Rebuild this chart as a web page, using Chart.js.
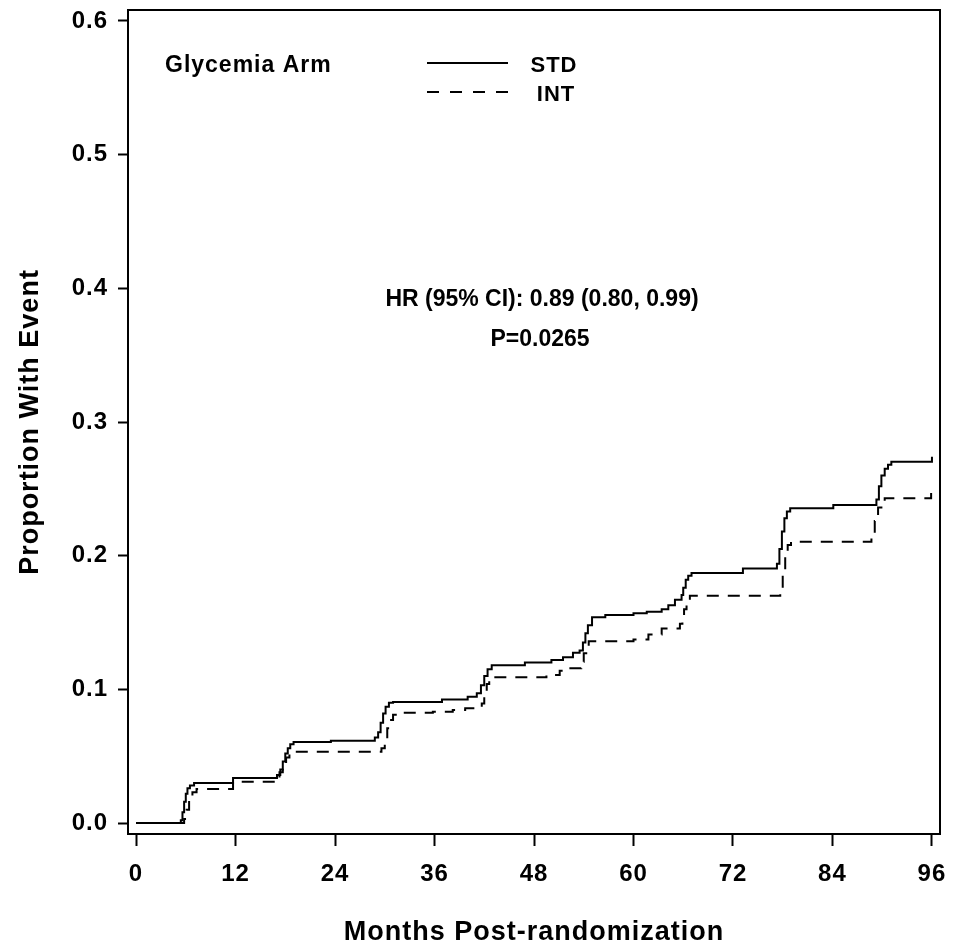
<!DOCTYPE html>
<html>
<head>
<meta charset="utf-8">
<script src="https://cdn.jsdelivr.net/npm/chart.js@4.4.0/dist/chart.umd.min.js"></script>
<style>
  html, body { margin: 0; padding: 0; background: #fff; }
  #wrap { width: 968px; height: 949px; }
</style>
</head>
<body>
<div id="wrap"><canvas id="kmChart" width="968" height="949"></canvas></div>
<script>
// Cumulative event curves (months, proportion)
const stdMonths = [0, 5.4, 5.6, 5.8, 6.0, 6.2, 6.5, 7.0, 11.7, 17.0, 17.4, 17.7, 18.0, 18.3, 18.6, 19.0,
  23.5, 28.8, 29.2, 29.5, 29.8, 30.1, 30.5, 31.0, 36.9, 40.0, 41.1, 41.6, 42.0, 42.4, 42.9,
  46.9, 50.1, 51.5, 52.7, 53.5, 53.9, 54.2, 54.5, 55.0, 56.6, 60.0, 61.6, 63.4, 64.2, 65.0,
  65.8, 66.0, 66.3, 66.6, 67.0, 73.2, 77.3, 77.6, 77.9, 78.2, 78.5, 78.9, 84.1, 89.3, 89.6,
  89.9, 90.3, 90.7, 91.1, 96.0];
const stdProportion = [0, 0.002, 0.008, 0.016, 0.022, 0.026, 0.028, 0.030, 0.0336, 0.036, 0.040, 0.046, 0.052, 0.056, 0.059, 0.0606,
  0.0615, 0.064, 0.068, 0.075, 0.082, 0.087, 0.090, 0.0906, 0.0924, 0.0945, 0.097, 0.103, 0.110, 0.115, 0.118,
  0.120, 0.122, 0.124, 0.1274, 0.129, 0.135, 0.142, 0.148, 0.154, 0.1556, 0.157, 0.158, 0.160, 0.163, 0.167,
  0.1705, 0.176, 0.182, 0.185, 0.187, 0.1904, 0.194, 0.205, 0.218, 0.228, 0.233, 0.2354, 0.238, 0.242, 0.252,
  0.260, 0.265, 0.268, 0.2703, 0.274];

const intMonths = [0, 5.8, 6.1, 6.4, 6.8, 7.3, 11.7, 16.8, 17.3, 17.7, 18.1, 18.5, 18.9, 29.6, 30.0, 30.3,
  30.6, 31.0, 32.2, 35.8, 38.2, 39.7, 41.7, 42.0, 42.3, 42.6, 49.5, 51.1, 51.9, 53.7, 54.0,
  54.3, 54.6, 60.0, 61.8, 63.4, 65.6, 65.9, 66.1, 66.4, 66.8, 77.7, 78.0, 78.3, 78.6, 79.0,
  88.7, 89.1, 89.5, 89.9, 90.3, 95.9];
const intProportion = [0, 0.003, 0.010, 0.018, 0.023, 0.0254, 0.0309, 0.033, 0.038, 0.044, 0.049, 0.052, 0.0533, 0.056, 0.063, 0.071,
  0.077, 0.081, 0.0825, 0.0832, 0.0845, 0.0858, 0.0895, 0.097, 0.104, 0.109, 0.1107, 0.114, 0.1157, 0.1207, 0.127,
  0.132, 0.136, 0.1373, 0.141, 0.1455, 0.149, 0.155, 0.160, 0.166, 0.170, 0.175, 0.188, 0.200, 0.208, 0.2104,
  0.215, 0.226, 0.236, 0.241, 0.2429, 0.2478];

const xTickValues = [0, 12, 24, 36, 48, 60, 72, 84, 96];
const yTickValues = [0, 0.1, 0.2, 0.3, 0.4, 0.5, 0.6];

const seriesLabels = ['STD', 'INT'];
const legendTitle = 'Glycemia Arm';
const annotationLines = ['HR (95% CI): 0.89 (0.80, 0.99)', 'P=0.0265'];

const FONT = "'Liberation Sans', Arial, sans-serif";

// SAS-style text is slightly letter-spaced
const spacingPlugin = {
  id: 'spacing',
  beforeDraw(chart) { chart.ctx.letterSpacing = '1px'; },
};

// Frame around the plot area (top and right sides are not axes)
const boxPlugin = {
  id: 'box',
  afterDraw(chart) {
    const { ctx, chartArea: a } = chart;
    ctx.save();
    ctx.strokeStyle = '#000';
    ctx.lineWidth = 2;
    ctx.strokeRect(a.left, a.top, a.right - a.left, a.bottom - a.top);
    ctx.restore();
  },
};

// In-plot legend and HR annotation
const notesPlugin = {
  id: 'notes',
  afterDraw(chart) {
    const { ctx } = chart;
    ctx.save();
    ctx.fillStyle = '#000';
    ctx.strokeStyle = '#000';
    ctx.textBaseline = 'middle';

    ctx.letterSpacing = '1px';
    ctx.font = `bold 23px ${FONT}`;
    ctx.textAlign = 'left';
    ctx.fillText(legendTitle, 165, 66);

    ctx.lineWidth = 2;
    ctx.beginPath();
    ctx.moveTo(427, 63);
    ctx.lineTo(508, 63);
    ctx.stroke();
    ctx.setLineDash([12, 11]);
    ctx.beginPath();
    ctx.moveTo(427, 92);
    ctx.lineTo(508, 92);
    ctx.stroke();
    ctx.setLineDash([]);

    ctx.font = `bold 22px ${FONT}`;
    ctx.textAlign = 'center';
    ctx.fillText(seriesLabels[0], 554, 66);
    ctx.fillText(seriesLabels[1], 556, 95);

    ctx.letterSpacing = '0px';
    ctx.font = `bold 23px ${FONT}`;
    ctx.fillText(annotationLines[0], 542, 300);
    ctx.fillText(annotationLines[1], 540, 340);
    ctx.restore();
  },
};

const tickFont = { family: FONT, size: 24, weight: 'bold' };
const titleFont = { family: FONT, size: 27, weight: 'bold', lineHeight: 1 };

const ctx = document.getElementById('kmChart').getContext('2d');
new Chart(ctx, {
  type: 'line',
  data: {
    datasets: [
      {
        label: seriesLabels[0],
        data: stdMonths.map((m, i) => ({ x: m, y: stdProportion[i] })),
        borderColor: '#000',
        borderWidth: 2,
        pointRadius: 0,
        stepped: 'before',
        fill: false,
      },
      {
        label: seriesLabels[1],
        data: intMonths.map((m, i) => ({ x: m, y: intProportion[i] })),
        borderColor: '#000',
        borderWidth: 2,
        borderDash: [12, 9],
        pointRadius: 0,
        stepped: 'before',
        fill: false,
      },
    ],
  },
  options: {
    responsive: false,
    animation: false,
    devicePixelRatio: 1,
    layout: { padding: { top: 10, right: 28, left: 0, bottom: 0 } },
    plugins: { legend: { display: false }, tooltip: { enabled: false } },
    scales: {
      x: {
        type: 'linear',
        min: -0.97,
        max: 96.97,
        afterBuildTicks: s => { s.ticks = xTickValues.map(v => ({ value: v })); },
        afterFit: s => { s.height = 115; s.paddingLeft = 0; s.paddingRight = 0; },
        ticks: {
          font: tickFont,
          color: '#000',
          padding: 14,
          maxRotation: 0,
          autoSkip: false,
          callback: v => String(v),
        },
        grid: { drawOnChartArea: false, drawTicks: true, tickLength: 12, tickColor: '#000', tickWidth: 2 },
        border: { display: true, color: '#000', width: 2 },
        title: {
          display: true,
          text: 'Months Post-randomization',
          font: titleFont,
          color: '#000',
          padding: { top: 0, bottom: 3 },
        },
      },
      y: {
        min: -0.0082,
        max: 0.6082,
        afterBuildTicks: s => { s.ticks = yTickValues.map(v => ({ value: v })); },
        afterFit: s => { s.width = 128; s.paddingTop = 0; s.paddingBottom = 0; },
        ticks: {
          font: tickFont,
          color: '#000',
          padding: 10,
          autoSkip: false,
          callback: v => v.toFixed(1),
        },
        grid: { drawOnChartArea: false, drawTicks: true, tickLength: 10, tickColor: '#000', tickWidth: 2 },
        border: { display: true, color: '#000', width: 2 },
        title: {
          display: true,
          text: 'Proportion With Event',
          font: titleFont,
          color: '#000',
          padding: { top: 17, bottom: 0 },
        },
      },
    },
  },
  plugins: [spacingPlugin, boxPlugin, notesPlugin],
});
</script>
</body>
</html>
